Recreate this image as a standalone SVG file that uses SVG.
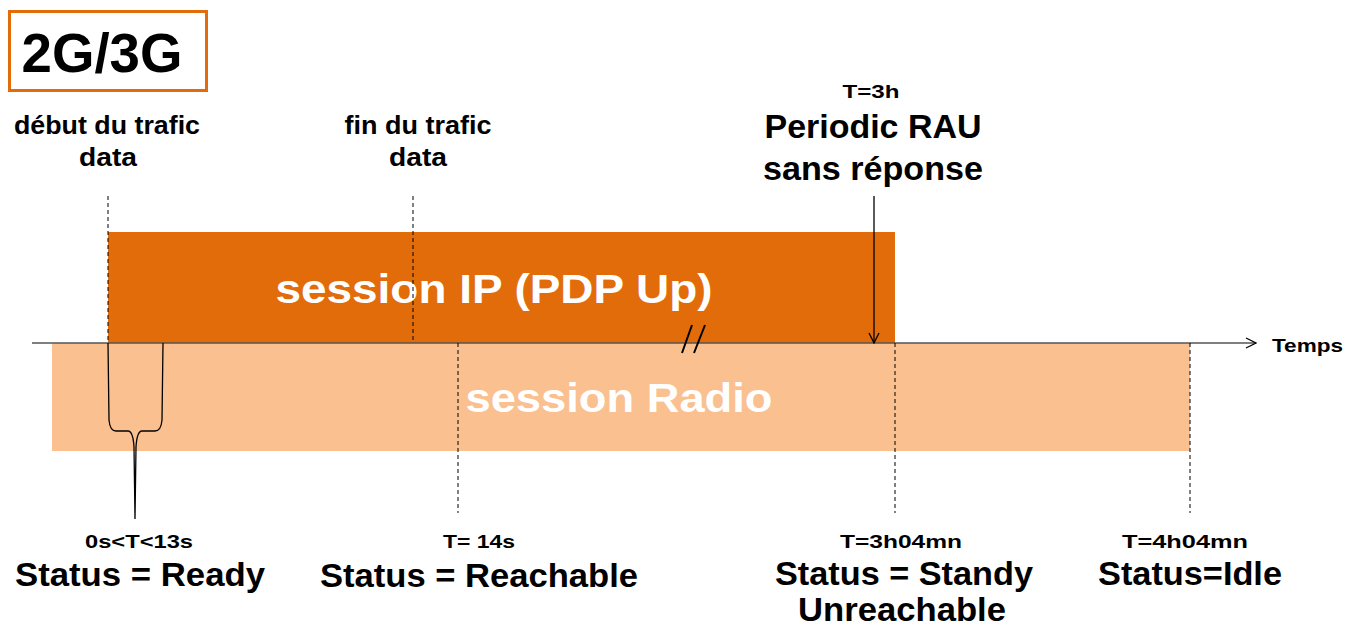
<svg xmlns="http://www.w3.org/2000/svg" width="1346" height="629" viewBox="0 0 1346 629">
  <style>
    text { font-family: "Liberation Sans", Arial, sans-serif; font-weight: bold; fill: #000; }
    .mid { text-anchor: middle; }
    .big { font-size: 33px; }
    .lbl { font-size: 26px; }
    .sm { font-size: 19px; }
    .band { fill: #fff; font-size: 41px; text-anchor: middle; }
    .dash { stroke: #000; stroke-width: 1; stroke-dasharray: 4 3; fill: none; }
    .thin { stroke: #000; stroke-width: 1.3; fill: none; }
  </style>
  <defs>
    <marker id="open" viewBox="0 0 12 12" refX="11" refY="6" markerWidth="12" markerHeight="12" markerUnits="userSpaceOnUse" orient="auto">
      <path d="M1,1 L11,6 L1,11" fill="none" stroke="#000" stroke-width="1.3"/>
    </marker>
  </defs>

  <rect width="1346" height="629" fill="#fff"/>

  <!-- technology badge -->
  <g id="badge">
    <rect x="9.5" y="11.5" width="197" height="79" fill="#fff" stroke="#E36C0A" stroke-width="3"/>
    <text x="102" y="72" class="mid" font-size="55" textLength="161" lengthAdjust="spacingAndGlyphs">2G/3G</text>
  </g>

  <!-- sessions -->
  <g id="session-radio">
    <rect x="52" y="343" width="1138" height="108" fill="#FAC090"/>
    <text x="619" y="412" class="band" textLength="307" lengthAdjust="spacingAndGlyphs">session Radio</text>
  </g>
  <g id="session-ip">
    <rect x="108" y="232" width="787" height="111" fill="#E36C0A"/>
    <text x="494" y="303" class="band" textLength="437" lengthAdjust="spacingAndGlyphs">session IP (PDP Up)</text>
  </g>

  <!-- connectors: time axis, markers, brace, arrow -->
  <g id="connectors">
    <line x1="32" y1="343" x2="1256" y2="343" stroke="#555" stroke-width="1.5" marker-end="url(#open)"/>
    <line x1="108" y1="196" x2="108" y2="343" class="dash"/>
    <line x1="413" y1="196" x2="413" y2="343" class="dash"/>
    <line x1="458" y1="343" x2="458" y2="513" class="dash"/>
    <line x1="895" y1="343" x2="895" y2="513" class="dash"/>
    <line x1="1190" y1="343" x2="1190" y2="513" class="dash"/>
    <path class="thin" d="M108,343 L109,420 Q110,431 116,431 L128,431 Q133,431 134,447 L135,519 L136,447 Q137,431 142,431 L155,431 Q161,431 162,420 L163,343"/>
    <line x1="874" y1="196" x2="874" y2="343" class="thin" marker-end="url(#open)"/>
    <line x1="682" y1="353" x2="692" y2="325" stroke="#000" stroke-width="2"/>
    <line x1="694" y1="353" x2="705" y2="325" stroke="#000" stroke-width="2"/>
  </g>

  <!-- event labels -->
  <g id="debut">
    <text x="107" y="134" class="mid lbl" textLength="186" lengthAdjust="spacingAndGlyphs">début du trafic</text>
    <text x="108" y="166" class="mid lbl" textLength="58" lengthAdjust="spacingAndGlyphs">data</text>
  </g>
  <g id="fin">
    <text x="418" y="134" class="mid lbl" textLength="147" lengthAdjust="spacingAndGlyphs">fin du trafic</text>
    <text x="418" y="166" class="mid lbl" textLength="58" lengthAdjust="spacingAndGlyphs">data</text>
  </g>
  <g id="rau">
    <text x="871" y="98" class="mid sm" textLength="57" lengthAdjust="spacingAndGlyphs">T=3h</text>
    <text x="873" y="138" class="mid big" textLength="217" lengthAdjust="spacingAndGlyphs">Periodic RAU</text>
    <text x="873" y="180" class="mid big" textLength="220" lengthAdjust="spacingAndGlyphs">sans réponse</text>
  </g>
  <g id="temps">
    <text x="1272" y="352" font-size="19" textLength="71" lengthAdjust="spacingAndGlyphs">Temps</text>
  </g>

  <!-- status labels -->
  <g id="ready">
    <text x="139" y="548" class="mid sm" textLength="108" lengthAdjust="spacingAndGlyphs">0s&lt;T&lt;13s</text>
    <text x="140" y="586" class="mid big" textLength="250" lengthAdjust="spacingAndGlyphs">Status = Ready</text>
  </g>
  <g id="reachable">
    <text x="479" y="548" class="mid sm" textLength="72" lengthAdjust="spacingAndGlyphs">T= 14s</text>
    <text x="479" y="587" class="mid big" textLength="318" lengthAdjust="spacingAndGlyphs">Status = Reachable</text>
  </g>
  <g id="standby">
    <text x="901" y="548" class="mid sm" textLength="122" lengthAdjust="spacingAndGlyphs">T=3h04mn</text>
    <text x="904" y="585" class="mid big" textLength="258" lengthAdjust="spacingAndGlyphs">Status = Standy</text>
    <text x="902" y="621" class="mid big" textLength="208" lengthAdjust="spacingAndGlyphs">Unreachable</text>
  </g>
  <g id="idle">
    <text x="1185" y="548" class="mid sm" textLength="126" lengthAdjust="spacingAndGlyphs">T=4h04mn</text>
    <text x="1190" y="585" class="mid big" textLength="184" lengthAdjust="spacingAndGlyphs">Status=Idle</text>
  </g>
</svg>
